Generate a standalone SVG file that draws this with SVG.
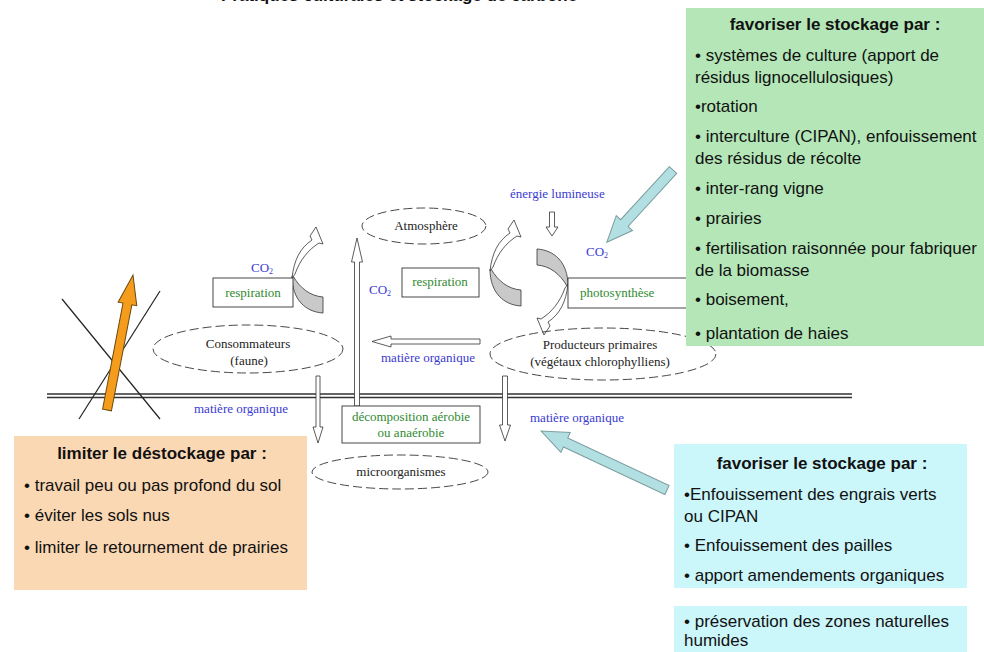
<svg xmlns="http://www.w3.org/2000/svg" width="984" height="652" viewBox="0 0 984 652">
<style>
.sans{font-family:"Liberation Sans",Arial,sans-serif;fill:#111;font-size:17px}
.b{font-weight:bold}
.ser{font-family:"Liberation Serif","Times New Roman",serif;font-size:13px;fill:#222}
.blue{fill:#3a3ad2}
.green{fill:#2f8a2f}
.ell{fill:none;stroke:#333;stroke-width:0.9;stroke-dasharray:9 4}
.box{fill:#fff;stroke:#333;stroke-width:0.9}
.hollow{fill:#fff;stroke:#333;stroke-width:0.8}
.gray{fill:#c9c9c9;stroke:#333;stroke-width:0.8}
.blarrow{fill:#b2dfe2;stroke:#7d9ea0;stroke-width:1}
</style>
<defs>
<g id="curv">
<path class="gray" d="M0,-4 C0,20 14,32 31,33 L31,17 C18,16 8,8 1,-4 Z"/>
<path class="hollow" d="M0,-2 C2,-20 8,-32 20,-40 L18,-44 L24,-53 L31,-36 L27,-37 C16,-30 8,-20 3,-6 Z"/>
</g>
</defs>
<rect width="984" height="652" fill="#fff"/>
<text class="sans b" x="221" y="1" font-size="24">Pratiques culturales et stockage de carbone</text>

<g id="ground">
<line x1="47" y1="394" x2="852" y2="394" stroke="#333" stroke-width="1.3"/>
<line x1="47" y1="397.5" x2="852" y2="397.5" stroke="#333" stroke-width="1.3"/>
</g>

<g id="connectors">
<path class="hollow" d="M354.5,406 L354.5,262 L351.5,262 L357,238 L362.5,262 L359.5,262 L359.5,406 Z"/>
<path class="hollow" d="M480,339 L391,339 L391,336 L372,341.5 L391,347 L391,344 L480,344 Z"/>
<path class="hollow" d="M316,376 L316,427 L313,427 L318,443 L323,427 L320,427 L320,376 Z"/>
<path class="hollow" d="M502.5,376 L502.5,425 L499.5,425 L505,441 L510.5,425 L507.5,425 L507.5,376 Z"/>
<path class="hollow" d="M549.5,212 L549.5,227 L546,227 L552,236 L558,227 L554.5,227 L554.5,212 Z"/>
<use href="#curv" transform="translate(292,280)"/>
<use href="#curv" transform="translate(490,273)"/>
<use href="#curv" transform="translate(568,282) rotate(180)"/>
</g>

<g id="atmosphere">
<ellipse class="ell" cx="424" cy="226" rx="62" ry="18"/>
<text class="ser" x="426" y="230" text-anchor="middle">Atmosphère</text>
</g>
<g id="respiration-left">
<rect class="box" x="213" y="278" width="80" height="29"/>
<text class="ser green" x="253" y="297" text-anchor="middle">respiration</text>
<text class="ser blue" x="251" y="272">CO<tspan font-size="8" dy="2">2</tspan></text>
</g>
<g id="respiration-mid">
<rect class="box" x="402" y="268" width="77" height="29"/>
<text class="ser green" x="440" y="286" text-anchor="middle">respiration</text>
<text class="ser blue" x="369" y="294">CO<tspan font-size="8" dy="2">2</tspan></text>
</g>
<g id="photosynthese">
<rect class="box" x="568" y="278" width="130" height="30"/>
<text class="ser green" x="580" y="297">photosynthèse</text>
<text class="ser blue" x="510" y="198">énergie lumineuse</text>
<text class="ser blue" x="586" y="256">CO<tspan font-size="8" dy="2">2</tspan></text>
</g>
<g id="producteurs">
<ellipse class="ell" cx="603" cy="354" rx="113" ry="26"/>
<text class="ser" x="600" y="349" text-anchor="middle">Producteurs primaires</text>
<text class="ser" x="600" y="366" text-anchor="middle">(végétaux chlorophylliens)</text>
</g>
<g id="consommateurs">
<ellipse class="ell" cx="248" cy="349" rx="95" ry="24"/>
<text class="ser" x="248" y="348" text-anchor="middle">Consommateurs</text>
<text class="ser" x="249" y="365" text-anchor="middle">(faune)</text>
</g>
<g id="labels-mo">
<text class="ser blue" x="428" y="362" text-anchor="middle">matière organique</text>
<text class="ser blue" x="241" y="413" text-anchor="middle">matière organique</text>
<text class="ser blue" x="577" y="422" text-anchor="middle">matière organique</text>
</g>
<g id="decomposition">
<rect class="box" x="342" y="406" width="138" height="37"/>
<text class="ser green" x="411" y="421" text-anchor="middle">décomposition aérobie</text>
<text class="ser green" x="411" y="437" text-anchor="middle">ou anaérobie</text>
</g>
<g id="microorganismes">
<ellipse class="ell" cx="400" cy="472" rx="88" ry="17"/>
<text class="ser" x="401" y="476" text-anchor="middle">microorganismes</text>
</g>

<g id="cross">
<line x1="62" y1="299" x2="160" y2="419" stroke="#222" stroke-width="1.2"/>
<line x1="79" y1="419" x2="160" y2="291" stroke="#222" stroke-width="1.2"/>
<path d="M0,-4.5 L108,-4.5 L108,-9.5 L137.5,0 L108,9.5 L108,4.5 L0,4.5 Z" fill="#f59c1c" stroke="#6b4a10" stroke-width="1" transform="translate(107,410) rotate(-79.1)"/>
</g>

<g id="box-green">
<rect x="686" y="8" width="298" height="338" fill="#b4e6b7"/>
<text class="sans b" x="835" y="30" text-anchor="middle">favoriser le stockage  par :</text>
<text class="sans" x="695" y="61">• systèmes de culture (apport de</text>
<text class="sans" x="695" y="83">résidus lignocellulosiques)</text>
<text class="sans" x="695" y="112">•rotation</text>
<text class="sans" x="695" y="142">• interculture (CIPAN), enfouissement</text>
<text class="sans" x="695" y="164">des résidus de récolte</text>
<text class="sans" x="695" y="194">• inter-rang vigne</text>
<text class="sans" x="695" y="224">• prairies</text>
<text class="sans" x="695" y="254">• fertilisation raisonnée pour fabriquer</text>
<text class="sans" x="695" y="276">de la biomasse</text>
<text class="sans" x="695" y="305">• boisement,</text>
<text class="sans" x="695" y="339">• plantation de haies</text>
</g>

<g id="box-cyan">
<rect x="674" y="444" width="293" height="144" fill="#cbf6fa"/>
<text class="sans b" x="822" y="469" text-anchor="middle">favoriser le stockage  par :</text>
<text class="sans" x="684" y="500">•Enfouissement des engrais verts</text>
<text class="sans" x="684" y="522">ou CIPAN</text>
<text class="sans" x="684" y="551">• Enfouissement des pailles</text>
<text class="sans" x="684" y="581">• apport amendements organiques</text>
</g>
<g id="box-cyan2">
<rect x="674" y="606" width="293" height="46" fill="#cbf6fa"/>
<text class="sans" x="684" y="627" font-size="16">• préservation des zones naturelles</text>
<text class="sans" x="684" y="646" font-size="16">humides</text>
</g>

<g id="box-orange">
<rect x="14" y="436" width="293" height="154" fill="#fbd8b4"/>
<text class="sans b" x="162" y="459" text-anchor="middle">limiter le déstockage par :</text>
<text class="sans" x="24" y="491">• travail peu ou pas profond du sol</text>
<text class="sans" x="24" y="521">• éviter les sols nus</text>
<text class="sans" x="24" y="553">• limiter le retournement de prairies</text>
</g>

<g id="blue-arrows">
<path class="blarrow" d="M0,-5 L72,-5 L72,-11 L98,0 L72,11 L72,5 L0,5 Z" transform="translate(673,170) rotate(132.5)"/>
<path class="blarrow" d="M0,-5 L112,-5 L112,-11 L139,0 L112,11 L112,5 L0,5 Z" transform="translate(667,490) rotate(205.1)"/>
</g>
</svg>
